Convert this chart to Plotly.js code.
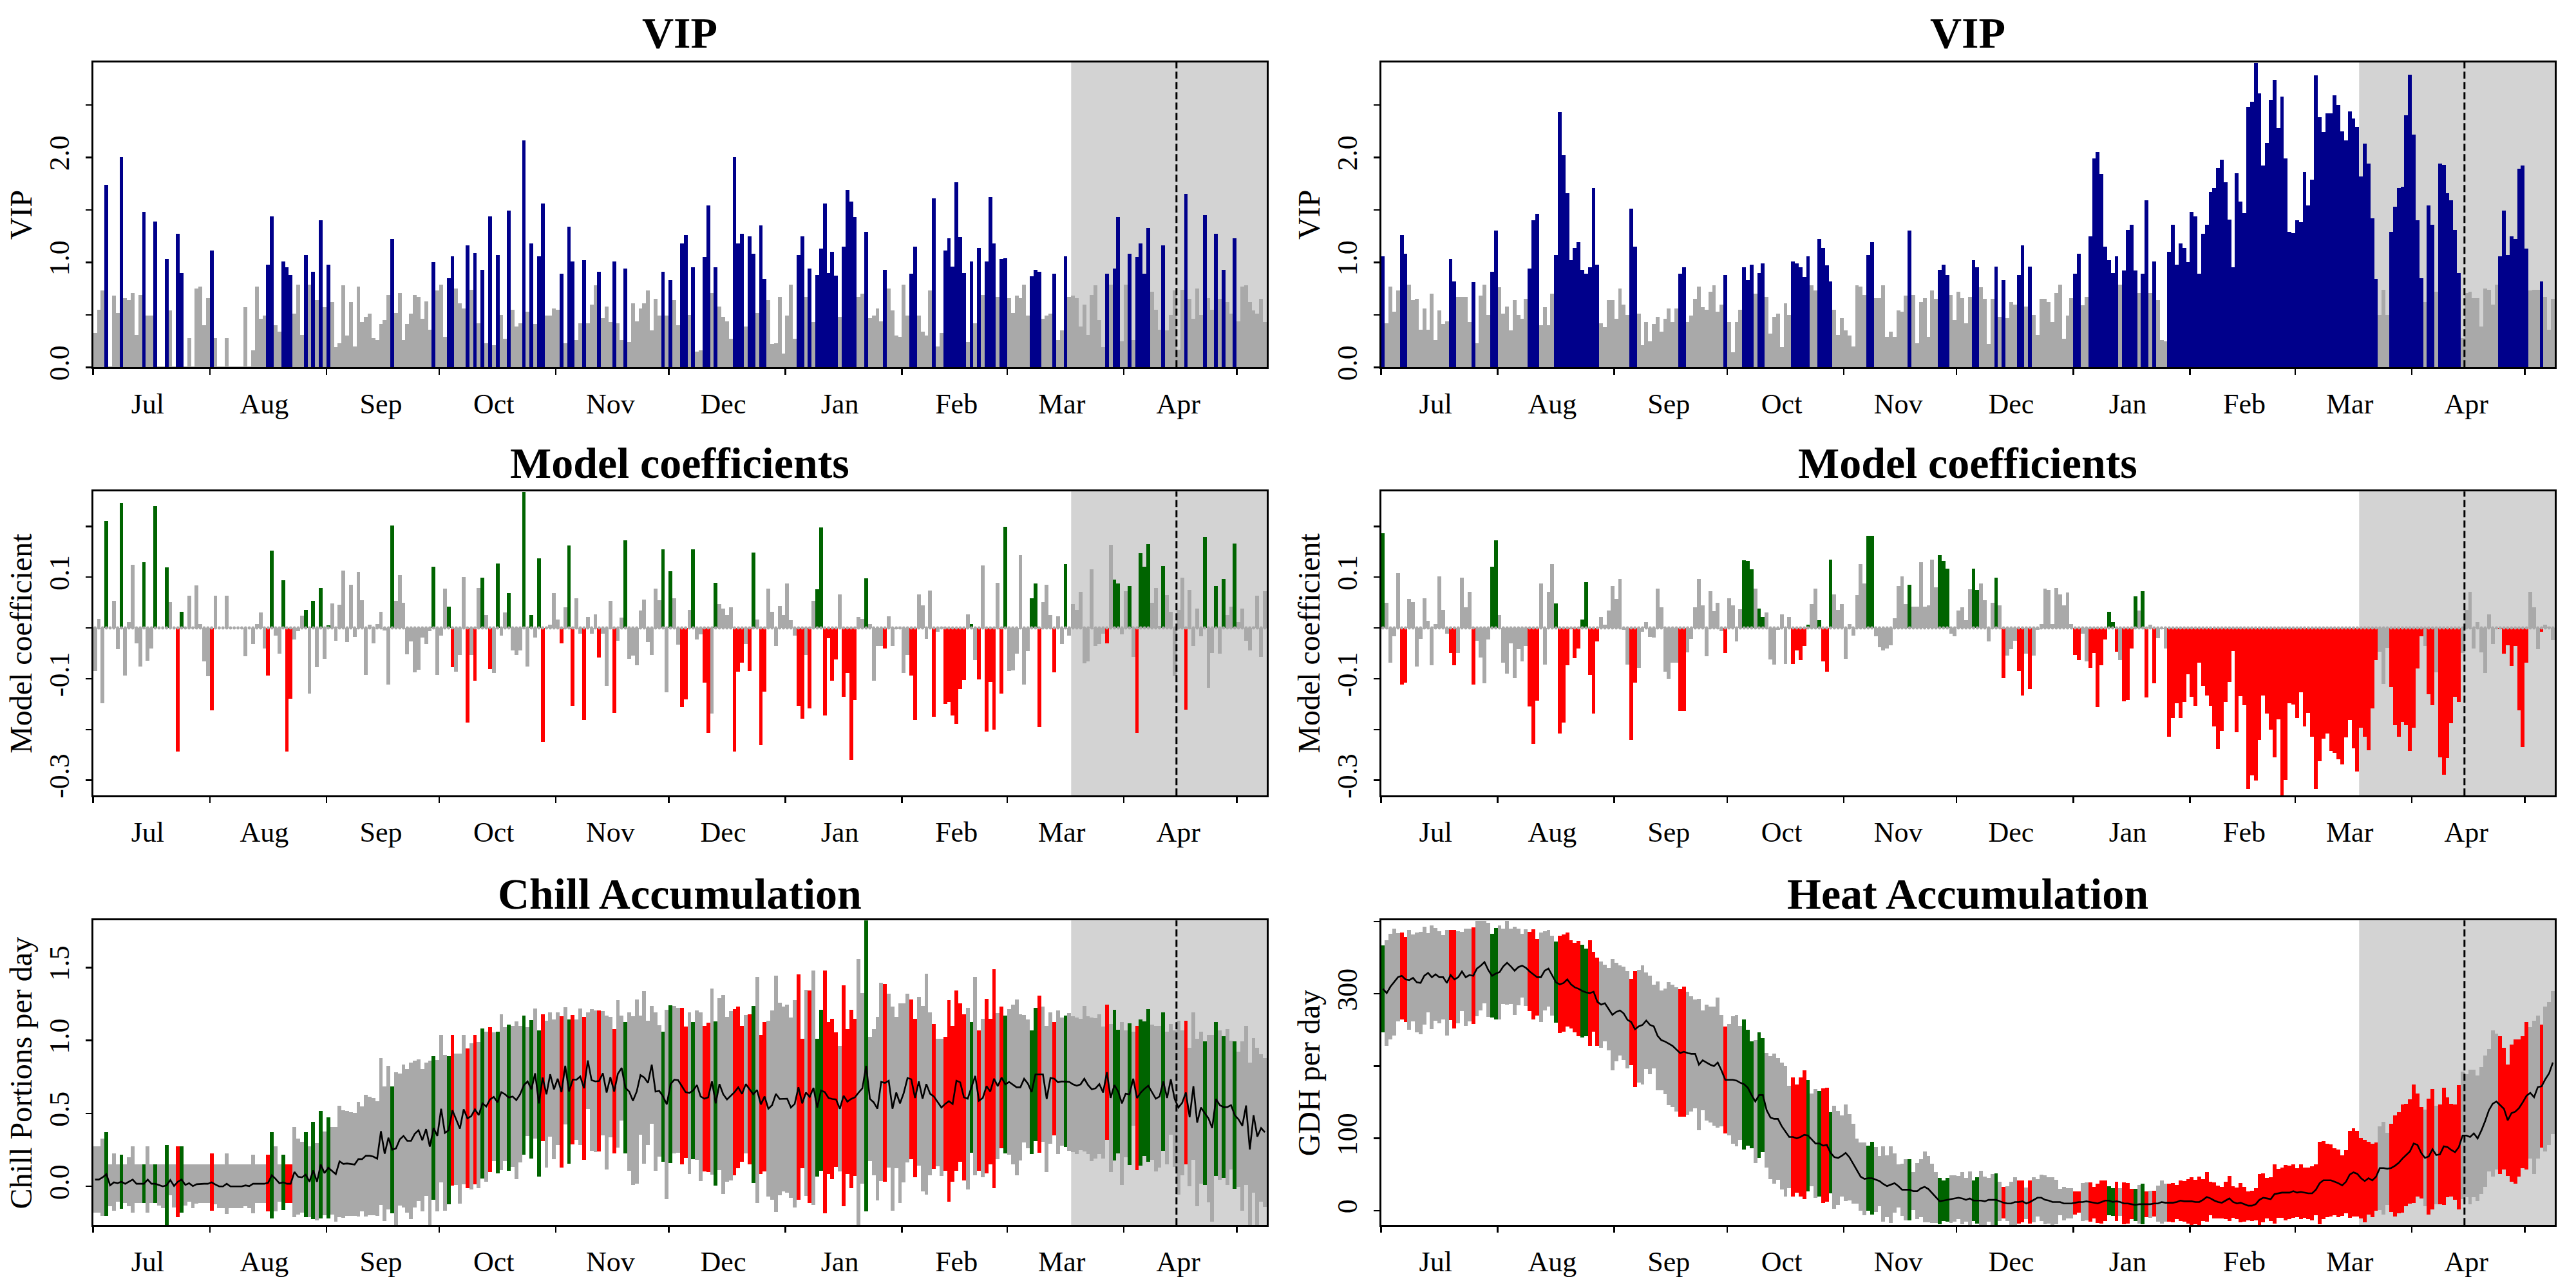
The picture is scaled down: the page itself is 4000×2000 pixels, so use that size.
<!DOCTYPE html>
<html>
<head>
<meta charset="utf-8">
<script src="https://cdn.plot.ly/plotly-3.0.1.min.js"></script>
<style>
  html, body { margin: 0; padding: 0; background: #ffffff; }
  #chart { width: 4000px; height: 2000px; }
</style>
</head>
<body>
<div id="chart"></div>
<script>
// Season runs from 1 July to 8 May, one value per day (day 0 = 1 July).
const monthNames   = ['Jul','Aug','Sep','Oct','Nov','Dec','Jan','Feb','Mar','Apr','May'];
const monthLengths = [31, 31, 30, 31, 30, 31, 31, 28, 31, 30, 31];
const nDays = 312;
const shadeStartDay = 260;   // 18 March
const bloomDay = 288;        // 15 April
const vipThreshold = 0.8;

// Variable importance in the projection, chill model (left) and heat model (right)
const vipChill = [
0.33,0.55,0.73,1.74,0.01,0.68,0.52,2.00,0.66,0.64,
0.71,0.31,0.69,1.48,0.49,0.49,1.39,0.01,0.01,1.03,
0.54,0.01,1.27,0.90,0.01,0.28,0.01,0.75,0.77,0.40,
0.66,1.11,0.28,0.01,0.01,0.28,0.01,0.01,0.01,0.01,
0.57,0.01,0.16,0.77,0.46,0.49,0.98,1.44,0.40,0.34,
1.01,0.95,0.88,0.51,0.79,0.31,1.07,0.79,0.91,0.64,
1.40,0.57,0.98,0.62,0.19,0.23,0.78,0.30,0.62,0.20,
0.77,0.43,0.48,0.51,0.28,0.26,0.41,0.45,0.69,1.22,
0.52,0.71,0.26,0.41,0.51,0.69,0.67,0.46,0.63,0.36,
1.00,0.73,0.79,0.29,0.85,1.06,0.75,0.61,0.56,1.16,
0.74,1.09,0.42,0.93,0.23,1.44,0.21,1.07,0.50,0.27,
1.49,0.55,0.39,0.42,2.16,0.53,1.18,0.41,1.06,1.56,
0.49,0.49,0.56,0.55,0.89,0.23,1.34,1.01,0.26,0.42,
1.02,0.42,0.60,0.78,0.91,0.47,0.58,0.43,1.01,0.42,
0.26,0.94,0.24,0.61,0.44,0.56,0.61,0.73,0.35,0.65,
0.49,0.91,0.49,0.83,0.64,0.40,1.18,1.26,0.50,0.95,
0.15,0.16,1.05,1.54,0.71,0.95,0.58,0.48,0.44,0.27,
2.00,1.18,1.27,0.39,1.25,1.08,0.52,1.35,0.84,0.64,
0.22,0.23,0.67,0.13,0.49,0.79,0.27,1.07,1.25,0.67,
0.94,0.43,0.88,1.13,1.56,0.90,1.10,0.875,0.48,1.15,
1.69,1.58,1.43,0.67,0.70,1.29,0.47,0.49,0.56,0.44,
0.93,0.75,0.54,0.30,0.29,0.79,0.49,0.89,1.15,0.49,
0.34,0.30,0.73,1.61,0.20,0.33,1.11,1.23,0.96,1.76,
1.24,0.90,0.24,1.01,0.42,1.14,0.69,1.01,1.62,1.18,
0.67,1.03,1.04,0.66,0.52,0.68,0.66,0.79,0.49,0.865,
0.93,0.91,0.46,0.49,0.51,0.89,0.26,0.35,1.06,0.67,
0.68,0.66,0.39,0.60,0.31,0.69,0.78,0.45,0.19,0.89,
0.79,0.94,1.43,0.25,0.79,1.08,0.26,1.05,1.18,0.89,
1.33,0.72,0.55,0.36,1.16,0.35,0.50,0.73,0.17,0.74,
1.65,0.65,0.46,0.75,0.50,1.45,0.66,0.55,1.27,0.65,
0.93,0.62,0.51,1.23,0.44,0.77,0.78,0.62,0.54,0.51,
0.65,0.43];

const vipHeat = [
1.06,0.42,0.77,0.53,0.73,1.26,1.08,0.79,0.64,0.65,
0.36,0.56,0.36,0.70,0.26,0.54,0.41,0.44,1.03,0.82,
0.67,0.67,0.67,0.43,0.81,0.23,0.68,0.79,0.50,0.91,
1.30,0.76,0.51,0.58,0.35,0.64,0.50,0.46,0.65,0.94,
1.40,1.46,0.40,0.57,0.40,0.70,1.07,2.43,2.02,1.66,
1.02,1.14,1.19,0.93,0.89,0.95,1.71,0.98,0.42,0.38,
0.64,0.64,0.46,0.75,0.60,0.50,1.51,1.15,0.51,0.21,
0.43,0.25,0.41,0.48,0.34,0.46,0.56,0.43,0.56,0.89,
0.95,0.43,0.49,0.65,0.77,0.57,0.55,0.72,0.78,0.53,
0.60,0.88,0.43,0.14,0.43,0.55,0.95,0.83,0.98,0.70,
0.90,0.99,0.67,0.32,0.48,0.51,0.19,0.61,0.50,1.01,
0.99,0.95,0.86,1.06,0.78,0.73,1.22,1.14,0.97,0.82,
0.55,0.31,0.47,0.35,0.30,0.20,0.78,0.77,0.69,1.07,
1.19,0.66,0.66,0.78,0.29,0.34,0.29,0.54,0.53,0.68,
1.30,0.69,0.23,0.62,0.66,0.29,0.73,0.65,0.93,0.98,
0.88,0.69,0.45,0.72,0.66,0.42,0.67,1.02,0.95,0.76,
0.65,0.22,0.65,0.96,0.48,0.83,0.47,0.62,0.60,0.88,
1.16,0.58,0.96,0.50,0.31,0.65,0.65,0.62,0.43,0.71,
0.79,0.27,0.49,0.66,0.89,1.08,0.59,0.67,1.25,1.99,
2.05,1.84,1.15,1.02,0.90,1.06,0.79,0.92,1.31,1.36,
0.92,0.71,0.89,1.59,0.71,1.01,0.64,0.26,0.25,1.10,
1.36,0.98,1.18,1.14,1.00,1.48,1.44,0.89,1.27,1.36,
1.67,1.71,1.90,1.98,1.76,1.41,0.95,1.85,1.58,1.47,
2.48,2.53,2.90,2.61,1.92,2.14,2.55,2.74,2.28,2.58,
1.99,1.29,1.28,1.40,1.38,1.86,1.54,1.79,2.78,2.38,
2.24,2.42,2.42,2.59,2.50,2.25,2.16,2.44,2.37,2.29,
1.82,2.13,1.94,1.42,0.84,0.50,0.74,0.50,1.29,1.53,
1.71,1.72,2.40,2.79,2.22,1.40,0.85,0.62,1.54,1.36,
0.72,1.94,1.93,1.66,1.59,1.31,0.90,0.28,0.71,0.72,
0.66,0.66,0.39,0.75,0.74,0.60,0.79,1.06,1.49,1.07,
1.25,1.22,1.89,1.92,1.13,0.73,0.74,0.74,0.82,0.67,
0.36,0.65];

// Model coefficients
const coefChill = [
-0.085,0.018,-0.148,0.211,0.0,0.053,-0.042,0.246,-0.094,0.011,
0.124,-0.030,-0.076,0.130,-0.065,-0.040,0.240,0.0,0.0,0.119,
0.051,0.0,-0.244,0.032,0.0,0.063,0.0,0.084,0.008,-0.066,
-0.095,-0.162,0.063,0.0,0.0,0.063,0.0,0.0,0.0,0.0,
-0.056,0.0,-0.032,0.008,0.030,-0.040,-0.094,0.152,-0.015,-0.051,
0.094,-0.243,-0.140,-0.023,-0.006,0.024,0.036,-0.129,0.053,-0.077,
0.079,-0.061,0.005,0.048,-0.025,0.046,0.113,-0.028,0.085,-0.018,
0.111,0.055,-0.093,0.006,-0.030,0.008,0.032,-0.005,-0.111,0.202,
0.053,0.104,0.049,-0.052,-0.027,-0.087,-0.082,-0.019,-0.032,-0.006,
0.121,-0.093,-0.015,0.077,0.042,-0.077,-0.086,-0.053,0.100,-0.186,
-0.053,-0.104,0.079,0.099,0.025,-0.081,-0.089,0.127,-0.015,0.030,
0.069,-0.044,-0.053,-0.044,0.268,-0.076,0.025,-0.019,0.137,-0.225,
0.002,0.006,0.068,0.016,-0.030,0.041,0.162,-0.153,0.058,-0.011,
-0.181,0.021,-0.011,0.027,-0.058,-0.011,-0.114,0.053,-0.167,-0.025,
0.020,0.172,-0.061,-0.055,-0.073,0.034,0.056,-0.028,-0.053,0.077,
0.055,0.155,-0.127,0.112,0.059,-0.033,-0.156,-0.141,0.036,0.155,
-0.023,-0.013,-0.108,-0.206,-0.169,0.089,0.047,0.038,0.025,0.041,
-0.243,-0.086,-0.069,-0.032,-0.085,0.148,0.017,-0.231,-0.125,0.078,
0.032,-0.036,0.043,0.025,0.087,0.015,-0.015,-0.153,-0.179,-0.053,
-0.159,0.053,0.076,0.198,-0.173,-0.020,-0.104,-0.062,0.066,-0.136,
-0.089,-0.260,-0.142,0.021,0.018,0.098,0.008,-0.104,-0.035,-0.035,
-0.041,0.023,-0.035,-0.002,0.002,-0.089,-0.053,-0.094,-0.181,0.066,
0.045,-0.022,0.073,-0.175,-0.008,0.003,-0.149,-0.146,-0.173,-0.189,
-0.121,-0.103,0.027,0.008,-0.063,-0.101,0.123,-0.204,-0.106,-0.200,
0.089,-0.129,0.199,-0.085,-0.083,-0.051,0.143,-0.111,-0.046,0.059,
0.088,-0.195,0.051,0.085,0.025,-0.087,0.023,-0.032,0.126,-0.015,
0.047,0.036,0.071,-0.070,-0.066,0.116,-0.036,-0.032,-0.011,-0.030,
0.163,0.095,0.087,-0.013,0.072,0.082,-0.057,-0.206,0.147,0.121,
0.165,0.049,0.079,0.004,0.122,0.065,0.032,-0.095,0.036,0.099,
-0.161,0.075,-0.036,0.038,-0.017,0.179,-0.118,-0.049,0.082,-0.051,
0.096,0.025,0.042,0.166,0.011,0.038,-0.025,-0.044,0.003,0.063,
-0.057,0.072];

const coefHeat = [
0.186,0.049,-0.069,-0.017,0.108,-0.112,-0.108,0.057,0.051,-0.076,
-0.021,0.058,0.014,-0.073,0.008,0.101,0.036,-0.011,-0.049,-0.073,
-0.049,0.099,0.041,0.071,-0.111,-0.025,-0.058,-0.109,-0.023,0.121,
0.173,0.025,-0.068,-0.090,-0.030,-0.099,-0.042,-0.066,-0.036,-0.154,
-0.228,-0.143,0.088,-0.072,0.071,0.125,0.048,-0.208,-0.186,-0.073,
-0.003,-0.059,-0.040,0.016,0.090,-0.092,-0.168,-0.027,0.021,0.006,
0.034,0.082,0.057,0.097,-0.004,-0.072,-0.220,-0.108,-0.078,-0.008,
0.011,-0.018,-0.019,0.077,0.041,-0.086,-0.100,-0.068,-0.068,-0.164,
-0.164,-0.048,-0.022,0.041,0.096,0.045,-0.056,0.072,0.033,0.049,
-0.006,-0.049,0.059,0.045,-0.027,0.037,0.133,0.132,0.116,0.078,
0.038,0.022,0.030,-0.062,-0.072,-0.004,0.027,-0.071,0.021,-0.071,
-0.044,-0.063,-0.035,0.006,0.047,0.078,0.015,-0.066,-0.086,0.134,
0.066,0.036,0.047,-0.061,0.008,-0.015,0.065,0.126,0.087,0.181,
0.181,-0.016,-0.038,-0.044,-0.040,-0.034,0.019,0.082,0.101,0.047,
0.085,0.042,0.042,0.130,0.042,0.044,0.134,0.080,0.143,0.132,
0.117,-0.011,-0.017,0.034,0.040,0.015,0.076,0.117,0.075,0.088,
0.055,-0.027,0.049,0.099,0.044,-0.099,-0.055,-0.042,-0.025,-0.085,
-0.133,-0.051,-0.121,-0.055,-0.004,0.008,0.078,0.075,0.008,0.079,
0.066,0.045,0.070,0.008,-0.053,-0.063,-0.011,-0.066,-0.079,-0.049,
-0.156,-0.073,-0.023,0.032,0.011,-0.047,-0.063,-0.144,-0.142,-0.041,
0.062,0.034,0.072,-0.137,0.006,-0.109,-0.020,-0.002,-0.041,-0.214,
-0.178,-0.148,-0.178,-0.146,-0.091,-0.135,-0.153,-0.069,-0.114,-0.133,
-0.153,-0.194,-0.238,-0.203,-0.146,-0.107,-0.045,-0.205,-0.134,-0.152,
-0.317,-0.290,-0.301,-0.221,-0.133,-0.169,-0.200,-0.255,-0.180,-0.330,
-0.299,-0.148,-0.151,-0.178,-0.127,-0.194,-0.167,-0.214,-0.317,-0.262,
-0.218,-0.208,-0.242,-0.246,-0.258,-0.269,-0.216,-0.181,-0.237,-0.283,
-0.196,-0.214,-0.241,-0.159,-0.063,-0.047,-0.110,-0.039,-0.117,-0.192,
-0.214,-0.185,-0.192,-0.242,-0.197,-0.080,-0.017,-0.036,-0.131,-0.152,
-0.087,-0.255,-0.289,-0.256,-0.187,-0.135,-0.146,-0.049,0.036,0.071,
-0.040,0.011,-0.048,-0.089,0.027,-0.032,-0.002,-0.002,-0.051,-0.034,
-0.075,-0.035,-0.162,-0.234,-0.069,0.071,0.040,-0.042,-0.008,0.007,
0.002,-0.024];

// Daily chill accumulation (Chill Portions per day): mean and standard deviation
const chillMean = [
0.047,0.047,0.062,0.084,0.007,0.028,0.022,0.032,0.018,0.032,
0.047,0.018,0.018,0.018,0.047,0.018,0.018,0.010,0.000,0.007,
0.044,0.003,0.032,0.047,0.010,0.022,0.002,0.015,0.018,0.018,
0.018,0.028,0.013,0.000,0.000,0.018,0.000,0.000,0.000,0.000,
0.007,0.002,0.018,0.018,0.018,0.018,0.025,0.076,0.051,0.022,
0.028,0.018,0.018,0.099,0.066,0.062,0.081,0.032,0.110,0.032,
0.150,0.091,0.128,0.106,0.084,0.172,0.154,0.157,0.154,0.150,
0.187,0.187,0.210,0.210,0.204,0.190,0.378,0.224,0.334,0.251,
0.260,0.322,0.346,0.312,0.312,0.360,0.385,0.316,0.393,0.272,
0.400,0.346,0.532,0.366,0.385,0.522,0.459,0.396,0.528,0.466,
0.481,0.528,0.488,0.569,0.547,0.596,0.613,0.576,0.646,0.631,
0.609,0.616,0.591,0.631,0.694,0.719,0.665,0.775,0.569,0.746,
0.631,0.768,0.665,0.738,0.646,0.826,0.650,0.731,0.731,0.753,
0.672,0.863,0.728,0.719,0.722,0.775,0.643,0.749,0.650,0.772,
0.812,0.675,0.650,0.587,0.650,0.763,0.746,0.709,0.834,0.650,
0.654,0.616,0.562,0.701,0.731,0.728,0.687,0.646,0.640,0.657,
0.694,0.616,0.601,0.610,0.719,0.569,0.701,0.631,0.596,0.621,
0.646,0.679,0.634,0.701,0.665,0.631,0.660,0.562,0.616,0.532,
0.557,0.634,0.599,0.599,0.601,0.540,0.565,0.679,0.569,0.643,
0.613,0.675,0.540,0.657,0.646,0.606,0.599,0.596,0.532,0.621,
0.581,0.599,0.610,0.643,0.672,0.826,0.599,0.576,0.532,0.716,
0.709,0.724,0.532,0.643,0.569,0.640,0.743,0.734,0.606,0.719,
0.601,0.701,0.635,0.616,0.576,0.540,0.565,0.584,0.565,0.724,
0.713,0.610,0.601,0.679,0.757,0.587,0.606,0.687,0.650,0.738,
0.687,0.746,0.699,0.716,0.699,0.679,0.679,0.738,0.704,0.646,
0.768,0.768,0.768,0.599,0.743,0.738,0.713,0.719,0.719,0.716,
0.699,0.690,0.699,0.738,0.694,0.665,0.672,0.701,0.643,0.782,
0.606,0.694,0.650,0.569,0.635,0.631,0.738,0.606,0.643,0.669,
0.690,0.646,0.601,0.616,0.719,0.606,0.734,0.601,0.540,0.572,
0.643,0.474,0.687,0.437,0.540,0.503,0.466,0.400,0.599,0.557,
0.543,0.543,0.557,0.488,0.459,0.415,0.554,0.253,0.488,0.341,
0.400,0.371];

const chillSd = [
0.228,0.228,0.265,0.287,0.143,0.196,0.128,0.187,0.132,0.169,
0.228,0.132,0.132,0.132,0.228,0.132,0.132,0.140,0.151,0.275,
0.106,0.147,0.243,0.228,0.140,0.128,0.149,0.135,0.132,0.132,
0.132,0.196,0.137,0.151,0.151,0.206,0.151,0.151,0.151,0.151,
0.143,0.149,0.201,0.132,0.132,0.132,0.194,0.294,0.224,0.128,
0.191,0.132,0.132,0.309,0.260,0.243,0.290,0.243,0.334,0.265,
0.368,0.287,0.346,0.301,0.324,0.382,0.368,0.360,0.356,0.353,
0.394,0.360,0.418,0.406,0.401,0.394,0.503,0.463,0.493,0.435,
0.522,0.453,0.491,0.493,0.537,0.503,0.485,0.488,0.456,0.591,
0.493,0.518,0.504,0.534,0.507,0.515,0.449,0.512,0.512,0.478,
0.500,0.512,0.500,0.515,0.515,0.496,0.441,0.485,0.534,0.460,
0.501,0.482,0.540,0.468,0.478,0.372,0.474,0.446,0.500,0.434,
0.504,0.426,0.478,0.456,0.519,0.400,0.493,0.444,0.412,0.468,
0.488,0.331,0.485,0.485,0.482,0.426,0.529,0.412,0.426,0.506,
0.360,0.450,0.544,0.578,0.632,0.409,0.591,0.426,0.404,0.544,
0.451,0.446,0.650,0.541,0.507,0.496,0.537,0.450,0.554,0.471,
0.510,0.578,0.500,0.511,0.637,0.562,0.589,0.681,0.564,0.580,
0.570,0.555,0.467,0.474,0.514,0.607,0.774,0.478,0.512,0.603,
0.647,0.810,0.661,0.632,0.645,0.617,0.710,0.772,0.444,0.706,
0.728,0.803,0.473,0.552,0.832,0.522,0.551,0.461,0.431,0.757,
0.495,0.610,0.540,0.915,0.654,0.996,0.426,0.500,0.628,0.680,
0.676,0.595,0.699,0.517,0.684,0.613,0.579,0.548,0.544,0.578,
0.637,0.758,0.559,0.497,0.437,0.470,0.460,0.691,0.534,0.617,
0.543,0.569,0.623,0.449,0.680,0.482,0.544,0.598,0.500,0.750,
0.500,0.485,0.473,0.500,0.547,0.603,0.500,0.437,0.442,0.423,
0.456,0.539,0.463,0.500,0.451,0.387,0.491,0.438,0.450,0.474,
0.466,0.467,0.451,0.500,0.471,0.492,0.482,0.478,0.453,0.464,
0.507,0.515,0.422,0.559,0.434,0.485,0.324,0.495,0.500,0.462,
0.523,0.464,0.498,0.485,0.475,0.456,0.379,0.468,0.595,0.497,
0.492,0.475,0.507,0.573,0.522,0.493,0.574,0.640,0.526,0.512,
0.485,0.533,0.442,0.505,0.463,0.581,0.545,0.596,0.530,0.610,
0.507,0.510];

// Daily heat accumulation (Growing Degree Hours per day): mean and standard deviation
const heatMean = [
307,301,310,316,323,325,320,319,322,316,
315,325,329,323,327,323,323,315,326,320,
323,331,323,326,325,335,339,344,333,325,
328,330,338,343,338,332,337,339,336,331,
327,323,323,332,335,325,316,313,315,320,
313,309,307,304,302,301,303,289,285,287,
279,271,275,277,273,264,261,251,255,257,
263,257,255,242,236,234,231,228,223,218,
220,218,217,217,202,208,205,202,200,205,
194,181,181,181,180,177,175,170,160,151,
160,160,139,129,127,127,117,110,102,102,
100,102,105,104,98,93,93,90,91,80,
74,73,76,80,74,65,55,47,44,45,
45,43,41,37,34,36,38,34,29,29,
29,27,27,31,33,30,24,18,13,14,
15,16,17,18,17,15,17,14,14,14,
13,15,15,15,13,11,10,10,12,12,
13,10,12,15,18,18,15,14,12,12,
12,10,10,10,11,12,12,13,12,11,
10,12,14,14,12,13,12,10,10,9,
8,9,9,9,9,10,10,12,11,11,
11,12,14,13,13,13,12,12,15,19,
17,14,12,11,14,17,12,10,11,9,
7,7,9,15,18,17,16,23,24,25,
25,25,27,25,26,25,24,24,29,38,
42,42,42,40,38,35,40,50,53,51,
45,41,45,42,47,59,59,58,59,62,
66,72,77,82,93,91,80,73,75,85,
77,78,89,88,84,81,88,104,104,102,
107,100,111,124,139,148,151,146,141,125,
135,137,142,150,159,163,157,171,172,182,
190,205];

const heatSd = [
60,73,73,74,61,60,59,69,60,69,
71,68,55,72,64,64,58,73,62,68,
64,55,67,64,67,66,62,57,65,58,
63,65,52,58,52,61,53,44,53,55,
62,53,62,55,53,55,56,67,67,65,
61,62,66,64,61,73,55,61,60,53,
57,77,68,62,65,67,60,80,78,82,
67,68,58,75,69,73,85,85,86,88,
90,85,80,75,91,69,80,80,82,90,
77,74,77,88,91,79,90,80,74,85,
87,79,79,85,90,84,88,90,71,82,
75,82,89,77,64,75,73,79,79,56,
71,65,56,67,60,55,45,47,50,45,
50,45,35,52,43,53,41,30,36,42,
42,26,39,40,49,46,41,35,32,28,
30,33,32,30,36,30,37,28,32,41,
34,30,36,37,27,22,24,30,34,30,
29,22,30,31,26,32,34,32,34,31,
18,23,21,21,16,15,26,26,27,22,
27,30,28,20,19,27,19,29,28,21,
22,27,28,18,19,18,25,30,26,26,
27,24,28,28,31,33,31,35,29,34,
23,25,23,22,26,31,22,22,27,24,
20,21,22,36,34,28,30,41,34,35,
38,37,37,34,38,35,36,37,35,57,
54,51,50,46,47,42,44,60,61,59,
56,57,50,51,47,58,64,50,61,70,
70,75,71,72,82,71,63,67,80,83,
68,69,81,69,64,66,86,88,85,93,
88,87,88,91,85,101,94,95,84,77,
95,100,95,91,102,91,106,99,85,100,
99,99];

// ---------------------------------------------------------------------------
const FONT = 'Liberation Serif, Times New Roman, serif';
const GREY = '#A9A9A9', NAVY = '#00008B', GREEN = '#006400', RED = '#FF0000';

const days = Array.from({length: nDays}, (_, i) => i + 0.5);
const monthStarts = [];
let acc = 0;
monthLengths.forEach(len => { monthStarts.push(acc); acc += len; });
const monthLabelPos = monthStarts.map(s => s + 14.5);

const vipColours  = vip => vip.map(v => v > vipThreshold ? NAVY : GREY);
const coefColours = (vip, coef) => coef.map((c, i) =>
  vip[i] > vipThreshold ? (c > 0 ? GREEN : RED) : GREY);

const colL = coefColours(vipChill, coefChill);
const colR = coefColours(vipHeat, coefHeat);

const traces = [];
function barTrace(xa, ya, y, colours, base) {
  const t = {type: 'bar', x: days, y: y, width: 1.0, xaxis: xa, yaxis: ya,
    marker: {color: colours, line: {width: 0}}, hoverinfo: 'skip', showlegend: false};
  if (base) t.base = base;
  return t;
}
function zeroDots(xa, ya) {
  return {type: 'scatter', mode: 'markers', x: days, y: days.map(() => 0),
    xaxis: xa, yaxis: ya, marker: {color: GREY, size: 5}, hoverinfo: 'skip', showlegend: false};
}
function meanLine(xa, ya, y) {
  return {type: 'scatter', mode: 'lines', x: days, y: y, xaxis: xa, yaxis: ya,
    line: {color: 'black', width: 2.6}, hoverinfo: 'skip', showlegend: false};
}

// VIP
traces.push(barTrace('x', 'y', vipChill, vipColours(vipChill)));
traces.push(barTrace('x2', 'y2', vipHeat, vipColours(vipHeat)));
// Coefficients
traces.push(zeroDots('x3', 'y3'));
traces.push(barTrace('x3', 'y3', coefChill, colL));
traces.push(zeroDots('x4', 'y4'));
traces.push(barTrace('x4', 'y4', coefHeat, colR));
// Accumulation: mean +/- sd
traces.push(barTrace('x5', 'y5', chillSd.map(s => 2 * s), colL, chillMean.map((m, i) => m - chillSd[i])));
traces.push(meanLine('x5', 'y5', chillMean));
traces.push(barTrace('x6', 'y6', heatSd.map(s => 2 * s), colR, heatMean.map((m, i) => m - heatSd[i])));
traces.push(meanLine('x6', 'y6', heatMean));

// Layout geometry (pixels on a 4000 x 2000 page)
const W = 4000, H = 2000;
const colX = [[144.7, 1967], [2144.5, 3967]];
const rowY = [[96.7, 570.3], [763.3, 1235.3], [1429.3, 1902.3]];
const xd = c => [colX[c][0] / W, colX[c][1] / W];
const yd = r => [1 - rowY[r][1] / H, 1 - rowY[r][0] / H];

function xAxis(c, anchor) {
  return {
    domain: xd(c), anchor: anchor, range: [0, nDays], fixedrange: true,
    tickmode: 'array', tickvals: monthLabelPos, ticktext: monthNames, ticks: '',
    ticklabelstandoff: 16,
    minor: {tickmode: 'array', tickvals: monthStarts, ticks: 'outside', ticklen: 9,
            tickwidth: 2.5, tickcolor: 'black', showgrid: false},
    showline: true, mirror: true, linecolor: 'black', linewidth: 3,
    showgrid: false, zeroline: false,
    tickfont: {family: FONT, size: 44, color: 'black'}
  };
}
function yAxis(r, anchor, range, vals, text) {
  return {
    domain: yd(r), anchor: anchor, range: range, fixedrange: true,
    tickmode: 'array', tickvals: vals, ticktext: text,
    ticks: 'outside', ticklen: 9, tickwidth: 2.5, tickcolor: 'black', tickangle: -90,
    ticklabelstandoff: 8,
    showline: true, mirror: true, linecolor: 'black', linewidth: 3,
    showgrid: false, zeroline: false,
    tickfont: {family: FONT, size: 44, color: 'black'}
  };
}

const vipRange = [0, 2.906];
const vipTicks = [[0, 0.5, 1, 1.5, 2, 2.5], ['0.0', '', '1.0', '', '2.0', '']];
const coefRange = [-0.330, 0.2685];
const coefTicks = [[-0.3, -0.2, -0.1, 0, 0.1, 0.2], ['-0.3', '', '-0.1', '', '0.1', '']];
const chillRange = [-0.265, 1.822];
const chillTicks = [[0, 0.5, 1, 1.5], ['0.0', '0.5', '1.0', '1.5']];
const heatRange = [-19.9, 401.5];
const heatTicks = [[0, 100, 200, 300, 400], ['0', '100', '', '300', '']];

const layout = {
  width: W, height: H, margin: {l: 0, r: 0, t: 0, b: 0},
  paper_bgcolor: 'white', plot_bgcolor: 'white', showlegend: false,
  bargap: 0,
  xaxis: xAxis(0, 'y'),  yaxis: yAxis(0, 'x', vipRange, ...vipTicks),
  xaxis2: xAxis(1, 'y2'), yaxis2: yAxis(0, 'x2', vipRange, ...vipTicks),
  xaxis3: xAxis(0, 'y3'), yaxis3: yAxis(1, 'x3', coefRange, ...coefTicks),
  xaxis4: xAxis(1, 'y4'), yaxis4: yAxis(1, 'x4', coefRange, ...coefTicks),
  xaxis5: xAxis(0, 'y5'), yaxis5: yAxis(2, 'x5', chillRange, ...chillTicks),
  xaxis6: xAxis(1, 'y6'), yaxis6: yAxis(2, 'x6', heatRange, ...heatTicks),
  shapes: [], annotations: []
};

// Shaded forcing window and dashed bloom line on every panel
const axisIds = ['', '2', '3', '4', '5', '6'];
axisIds.forEach(id => {
  layout.shapes.push({type: 'rect', layer: 'below', xref: 'x' + id, yref: 'y' + id + ' domain',
    x0: shadeStartDay, x1: nDays, y0: 0, y1: 1, fillcolor: '#D3D3D3', line: {width: 0}});
  layout.shapes.push({type: 'line', layer: 'above', xref: 'x' + id, yref: 'y' + id + ' domain',
    x0: bloomDay, x1: bloomDay, y0: 0, y1: 1, line: {color: 'black', width: 3, dash: '11px,5px'}});
});

// Panel titles
const titles = [['VIP', 'VIP'], ['Model coefficients', 'Model coefficients'],
                ['Chill Accumulation', 'Heat Accumulation']];
const titleY = [51, 719, 1388];
titles.forEach((pair, r) => pair.forEach((txt, c) => {
  layout.annotations.push({text: '<b>' + txt + '</b>', xref: 'paper', yref: 'paper',
    x: (colX[c][0] + colX[c][1]) / 2 / W, y: 1 - titleY[r] / H,
    xanchor: 'center', yanchor: 'middle', showarrow: false,
    font: {family: FONT, size: 68, color: 'black'}});
}));

// Y-axis titles
const yTitles = [['VIP', 'VIP'], ['Model coefficient', 'Model coefficient'],
                 ['Chill Portions per day', 'GDH per day']];
yTitles.forEach((pair, r) => pair.forEach((txt, c) => {
  layout.annotations.push({text: txt, xref: 'paper', yref: 'paper',
    x: (colX[c][0] - 112) / W, y: 1 - (rowY[r][0] + rowY[r][1]) / 2 / H,
    xanchor: 'center', yanchor: 'middle', textangle: -90, showarrow: false,
    font: {family: FONT, size: 48, color: 'black'}});
}));

Plotly.newPlot('chart', traces, layout, {staticPlot: true, displayModeBar: false});
</script>
</body>
</html>
